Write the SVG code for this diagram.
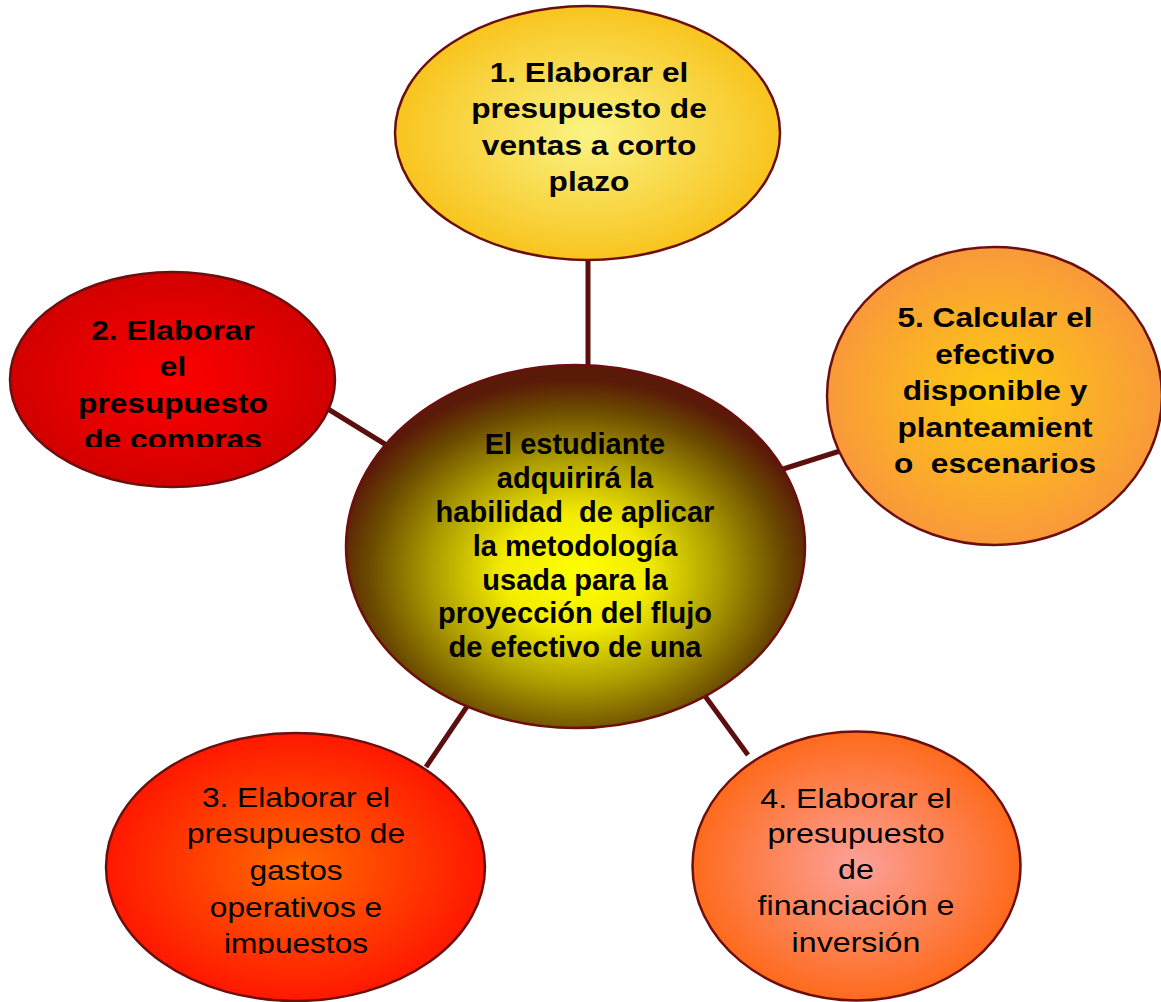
<svg xmlns="http://www.w3.org/2000/svg" width="1161" height="1002" viewBox="0 0 1161 1002">
<defs>
<style>
.t{font-family:"Liberation Sans",Arial,sans-serif;font-size:28.5px;fill:#000;text-anchor:middle;white-space:pre}
.b{font-weight:bold}
.e{stroke:#6b0f0f;stroke-width:2.5}
.c{stroke:#5c0f0f;stroke-width:5;fill:none}
</style>
<radialGradient id="g1" cx="0.5" cy="0.5" r="0.5"><stop offset="0" stop-color="#faf484"/><stop offset="1" stop-color="#f8c41e"/></radialGradient>
<radialGradient id="g2" cx="0.5" cy="0.5" r="0.5"><stop offset="0" stop-color="#ff0000"/><stop offset="1" stop-color="#d20000"/></radialGradient>
<radialGradient id="gc" cx="0.5" cy="0.57" r="0.53"><stop offset="0" stop-color="#ffff00"/><stop offset="0.3" stop-color="#f3ec00"/><stop offset="0.6" stop-color="#aa9a00"/><stop offset="0.85" stop-color="#6a4a00"/><stop offset="1" stop-color="#5a1a08"/></radialGradient>
<radialGradient id="g5" cx="0.5" cy="0.5" r="0.5"><stop offset="0" stop-color="#fdcc10"/><stop offset="1" stop-color="#f9993a"/></radialGradient>
<radialGradient id="g3" cx="0.5" cy="0.5" r="0.5"><stop offset="0" stop-color="#ff6a00"/><stop offset="1" stop-color="#ff1800"/></radialGradient>
<radialGradient id="g4" cx="0.5" cy="0.5" r="0.5"><stop offset="0" stop-color="#fca19a"/><stop offset="1" stop-color="#fe6a1c"/></radialGradient>
<clipPath id="cl2"><rect x="0" y="290" width="345" height="157"/></clipPath>
<clipPath id="cl3"><rect x="100" y="770" width="400" height="184"/></clipPath>
<clipPath id="clc"><rect x="340" y="420" width="470" height="247"/></clipPath>
</defs>
<g id="connectors">
<line class="c" x1="588" y1="258" x2="588" y2="368"/>
<line class="c" x1="328" y1="409" x2="388" y2="446"/>
<line class="c" x1="780" y1="470" x2="840" y2="451"/>
<line class="c" x1="468" y1="705" x2="426" y2="767"/>
<line class="c" x1="705" y1="696" x2="748" y2="755"/>
</g>
<g id="node1">
<ellipse class="e" cx="587.5" cy="133" rx="192.5" ry="127" fill="url(#g1)"/>
<g transform="translate(589,0) scale(1.11,1)">
<text class="t b" x="0" y="82">1. Elaborar el</text>
<text class="t b" x="0" y="118.5">presupuesto de</text>
<text class="t b" x="0" y="155">ventas a corto</text>
<text class="t b" x="0" y="191.5">plazo</text>
</g>
</g>
<g id="node2">
<ellipse class="e" cx="172.5" cy="379.5" rx="162.5" ry="107.5" fill="url(#g2)"/>
<g clip-path="url(#cl2)">
<g transform="translate(173,0) scale(1.11,1)">
<text class="t b" x="0" y="340">2. Elaborar</text>
<text class="t b" x="0" y="376.5">el</text>
<text class="t b" x="0" y="413">presupuesto</text>
<text class="t b" x="0" y="449.5">de compras</text>
</g>
</g>
</g>
<g id="node-center">
<ellipse class="e" cx="575.5" cy="546.5" rx="229.5" ry="181.5" fill="url(#gc)"/>
<g clip-path="url(#clc)">
<text class="t b" x="575" y="454" style="font-size:29px">El estudiante</text>
<text class="t b" x="575" y="488" style="font-size:29px">adquirirá la</text>
<text class="t b" x="575" y="522" style="font-size:29px">habilidad  de aplicar</text>
<text class="t b" x="575" y="555.5" style="font-size:29px">la metodología</text>
<text class="t b" x="575" y="589.5" style="font-size:29px">usada para la</text>
<text class="t b" x="575" y="623" style="font-size:29px">proyección del flujo</text>
<text class="t b" x="575" y="657" style="font-size:29px">de efectivo de una</text>
</g>
</g>
<g id="node5">
<ellipse class="e" cx="994.5" cy="396" rx="167.5" ry="149" fill="url(#g5)"/>
<g transform="translate(995,0) scale(1.11,1)">
<text class="t b" x="0" y="327">5. Calcular el</text>
<text class="t b" x="0" y="364">efectivo</text>
<text class="t b" x="0" y="400.5">disponible y</text>
<text class="t b" x="0" y="437">planteamient</text>
<text class="t b" x="0" y="473.5">o  escenarios</text>
</g>
</g>
<g id="node3">
<ellipse class="e" cx="295.5" cy="867" rx="189.5" ry="134" fill="url(#g3)"/>
<g clip-path="url(#cl3)">
<g transform="translate(296,0) scale(1.11,1)">
<text class="t" x="0" y="807">3. Elaborar el</text>
<text class="t" x="0" y="843.5">presupuesto de</text>
<text class="t" x="0" y="880">gastos</text>
<text class="t" x="0" y="917">operativos e</text>
<text class="t" x="0" y="953.5">impuestos</text>
</g>
</g>
</g>
<g id="node4">
<ellipse class="e" cx="856.5" cy="866" rx="164" ry="134.5" fill="url(#g4)"/>
<g transform="translate(856,0) scale(1.13,1)">
<text class="t" x="0" y="808">4. Elaborar el</text>
<text class="t" x="0" y="843.5">presupuesto</text>
<text class="t" x="0" y="879.5">de</text>
<text class="t" x="0" y="915.5">financiación e</text>
<text class="t" x="0" y="952">inversión</text>
</g>
</g>
</svg>
